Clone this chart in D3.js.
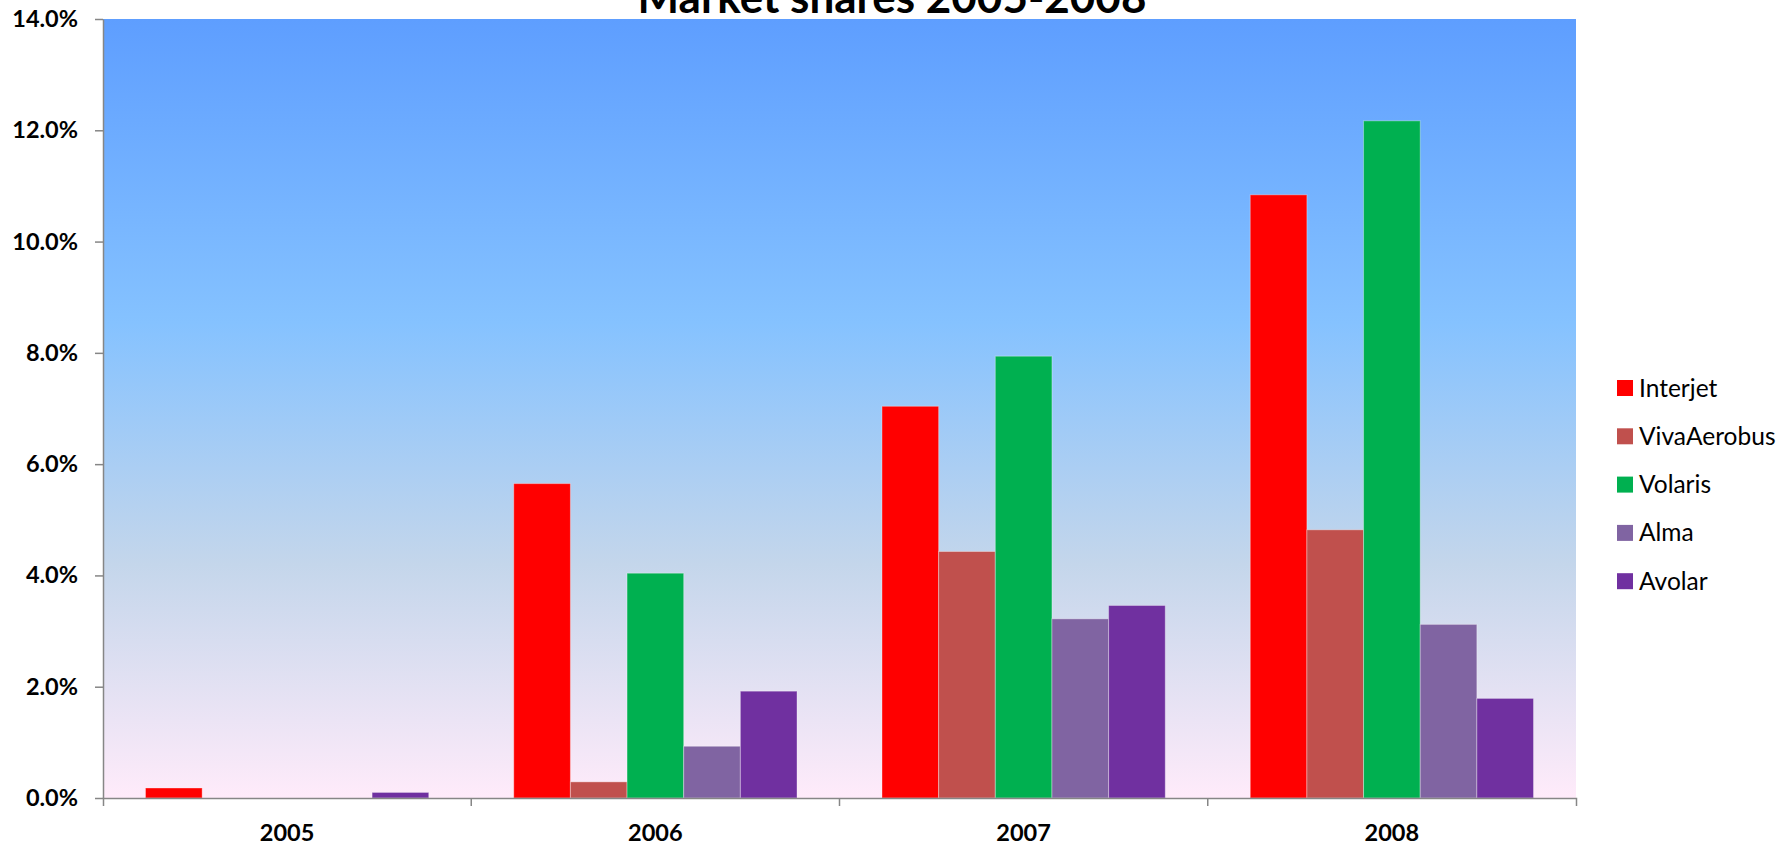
<!DOCTYPE html>
<html>
<head>
<meta charset="utf-8">
<script src="https://cdn.jsdelivr.net/npm/d3@7"></script>
<style>
  body { margin: 0; background: #ffffff; }
  svg { display: block; font-family: Lato, "Open Sans", sans-serif; }
</style>
</head>
<body>
<div class="chart"></div>
<script>
const years = ["2005", "2006", "2007", "2008"];
const airlines = ["Interjet", "VivaAerobus", "Volaris", "Alma", "Avolar"];

// market share per year, same order as years
const interjet = [0.0018, 0.0565, 0.0704, 0.1084];
const vivaAerobus = [0, 0.0029, 0.0443, 0.0482];
const volaris = [0, 0.0404, 0.0794, 0.1217];
const alma = [0, 0.0093, 0.0322, 0.0312];
const avolar = [0.0010, 0.0192, 0.0346, 0.0179];

const yTicks = [0, 0.02, 0.04, 0.06, 0.08, 0.10, 0.12, 0.14];
const colors = ["#ff0000", "#c0504d", "#00b050", "#8064a2", "#7030a0"];

const seriesValues = [interjet, vivaAerobus, volaris, alma, avolar];

const width = 1791, height = 845;
const plot = {left: 103, right: 1576, top: 19, bottom: 798};

const svg = d3.select(".chart")
  .append("svg")
    .attr("width", width)
    .attr("height", height);

// Daybreak style gradient for the plot area
const grad = svg.append("defs").append("linearGradient")
  .attr("id", "plotBg")
  .attr("x1", 0).attr("y1", 0).attr("x2", 0).attr("y2", 1);
grad.append("stop").attr("offset", "0%").attr("stop-color", "#5e9eff");
grad.append("stop").attr("offset", "39%").attr("stop-color", "#85c2ff");
grad.append("stop").attr("offset", "70%").attr("stop-color", "#c4d6eb");
grad.append("stop").attr("offset", "100%").attr("stop-color", "#ffebfa");

svg.append("rect")
  .attr("x", plot.left)
  .attr("y", plot.top)
  .attr("width", plot.right - plot.left)
  .attr("height", plot.bottom - plot.top)
  .attr("fill", "url(#plotBg)");

const x0 = d3.scaleBand()
  .domain(years)
  .range([plot.left, plot.right]);

const x1 = d3.scaleBand()
  .domain(airlines)
  .range([0, x0.bandwidth()])
  .paddingInner(0)
  .paddingOuter(0.75);

const y = d3.scaleLinear()
  .domain([0, 0.14])
  .range([plot.bottom, plot.top]);

const color = d3.scaleOrdinal()
  .domain(airlines)
  .range(colors);

// one row per year+airline
const bars = [];
years.forEach((year, i) => {
  airlines.forEach((name, j) => {
    bars.push({year: year, key: name, value: seriesValues[j][i]});
  });
});

svg.append("g")
  .selectAll("rect")
  .data(bars.filter(d => d.value > 0))
  .join("rect")
    .attr("x", d => x0(d.year) + x1(d.key))
    .attr("y", d => y(d.value))
    .attr("width", x1.bandwidth())
    .attr("height", d => y(0) - y(d.value))
    .attr("fill", d => color(d.key))
    .attr("stroke", "#ffffff")
    .attr("stroke-opacity", 0.35)
    .attr("stroke-width", 1);

// y axis
const yAxis = svg.append("g")
  .attr("transform", "translate(" + plot.left + ",0)")
  .call(d3.axisLeft(y)
    .tickValues(yTicks)
    .tickFormat(d3.format(".1%"))
    .tickSize(8)
    .tickSizeOuter(0)
    .tickPadding(17));

// x axis, ticks sit between the years like in Excel
const xAxis = svg.append("g")
  .attr("transform", "translate(0," + plot.bottom + ")")
  .call(d3.axisBottom(x0).tickSize(0).tickSizeOuter(8).tickPadding(26));

xAxis.selectAll(".divider")
  .data(years.slice(1))
  .join("line")
    .attr("class", "divider")
    .attr("x1", d => x0(d))
    .attr("x2", d => x0(d))
    .attr("y1", 0)
    .attr("y2", 8);

[yAxis, xAxis].forEach(ax => {
  ax.select(".domain").attr("stroke", "#868686").attr("stroke-width", 1.5);
  ax.selectAll("line").attr("stroke", "#868686").attr("stroke-width", 1.5);
  ax.selectAll("text")
    .style("font-family", "Lato, sans-serif")
    .style("font-weight", "bold")
    .style("font-size", "23.5px")
    .attr("fill", "#000");
});

// title, partly above the top of the picture
svg.append("text")
  .attr("x", 892)
  .attr("y", 13)
  .attr("text-anchor", "middle")
  .style("font-family", "Lato, sans-serif")
  .style("font-weight", "bold")
  .style("font-size", "44px")
  .text("Market shares 2005-2008");

// legend
const legend = svg.append("g")
  .attr("transform", "translate(1617,388)");

const item = legend.selectAll("g")
  .data(airlines)
  .join("g")
    .attr("transform", (d, i) => "translate(0," + i * 48.3 + ")");

item.append("rect")
  .attr("x", 0)
  .attr("y", -8)
  .attr("width", 16)
  .attr("height", 16)
  .attr("fill", d => color(d));

item.append("text")
  .attr("x", 22)
  .attr("y", 0)
  .attr("dy", "0.35em")
  .style("font-family", "Lato, sans-serif")
  .style("font-size", "24.5px")
  .attr("fill", "#000")
  .text(d => d);
</script>
</body>
</html>
